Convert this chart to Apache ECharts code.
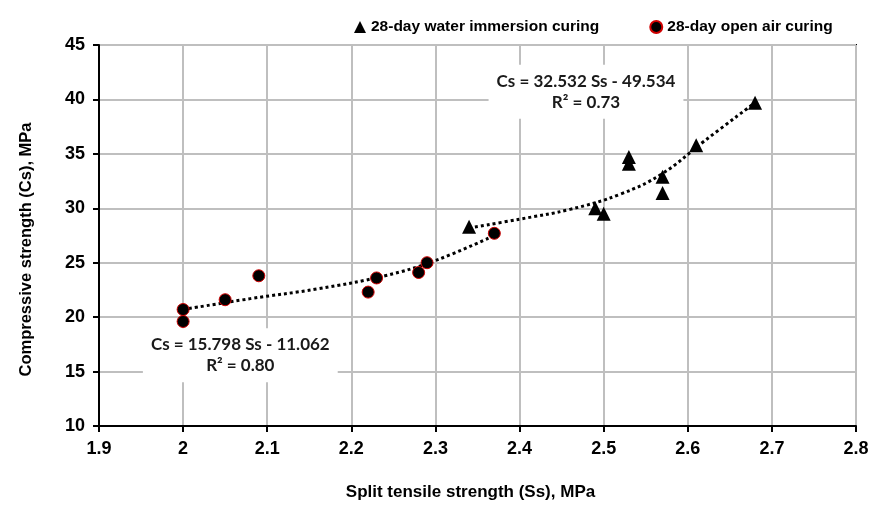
<!DOCTYPE html>
<html>
<head>
<meta charset="utf-8">
<script src="https://cdn.jsdelivr.net/npm/echarts@6/dist/echarts.min.js"></script>
<style>
  html, body { margin: 0; padding: 0; background: #fff; }
  #chart { width: 872px; height: 516px; }
</style>
</head>
<body>
<div id="chart"></div>
<script>
// Split tensile strength (Ss, MPa) vs compressive strength (Cs, MPa)
const waterSs = [2.34, 2.49, 2.50, 2.53, 2.53, 2.57, 2.57, 2.61, 2.68];
const waterCs = [28.3, 30.0, 29.5, 34.7, 34.1, 32.9, 31.4, 35.8, 39.7];

const airSs = [2.00, 2.00, 2.05, 2.09, 2.22, 2.23, 2.28, 2.29, 2.37];
const airCs = [20.7, 19.6, 21.6, 23.8, 22.3, 23.6, 24.1, 25.0, 27.7];

// dotted trend curves as drawn through each group
const waterTrendSs = [2.34, 2.40, 2.46, 2.52, 2.57, 2.62, 2.68];
const waterTrendCs = [28.2, 29.0, 29.9, 31.3, 33.2, 36.2, 39.7];
const airTrendSs = [2.00, 2.08, 2.16, 2.24, 2.30, 2.37];
const airTrendCs = [20.7, 21.7, 22.6, 23.8, 25.2, 27.5];

const seriesNames = ['28-day water immersion curing', '28-day open air curing'];
const equations = [
  { ss: 2.068, cs: 16.5, text: 'Cs = 15.798 Ss - 11.062\nR\u00B2 = 0.80' },
  { ss: 2.479, cs: 40.7, text: 'Cs = 32.532 Ss - 49.534\nR\u00B2 = 0.73' }
];

const xTicks = { min: 1.9, max: 2.8, interval: 0.1 };
const yTicks = { min: 10, max: 45, interval: 5 };

const zip = (a, b) => a.map((v, i) => [v, b[i]]);
const axisFont = '"Liberation Sans", "Roboto", Arial, sans-serif';
const eqFont = '"Lato", "Open Sans", sans-serif';

const chart = echarts.init(document.getElementById('chart'), null, { renderer: 'canvas' });

const dotted = { color: '#000', width: 3, type: [3, 3], cap: 'butt' };

chart.setOption({
  animation: false,
  backgroundColor: '#fff',
  grid: {
    left: 99, right: 16, top: 45, bottom: 90,
    show: true, borderColor: '#000', borderWidth: 2, backgroundColor: 'transparent'
  },
  legend: {
    data: [
      { name: seriesNames[0], icon: 'triangle' },
      { name: seriesNames[1], icon: 'circle' }
    ],
    left: 349, top: 14,
    itemWidth: 12, itemHeight: 12, itemGap: 50,
    textStyle: { fontFamily: axisFont, fontWeight: 'bold', fontSize: 15.5, color: '#000' }
  },
  xAxis: {
    type: 'value',
    min: xTicks.min, max: xTicks.max, interval: xTicks.interval,
    name: 'Split tensile strength (Ss), MPa',
    nameLocation: 'middle', nameGap: 58,
    nameTextStyle: {
      fontFamily: axisFont, fontWeight: 'bold', fontSize: 17, color: '#000',
      padding: [0, 14, 0, 0]
    },
    axisLine: { lineStyle: { color: '#000', width: 2 } },
    axisTick: { show: true, length: 6, lineStyle: { color: '#000', width: 2 } },
    axisLabel: {
      margin: 14, color: '#000', fontFamily: axisFont, fontWeight: 'bold', fontSize: 18,
      formatter: v => String(Math.round(v * 10) / 10)
    },
    splitLine: { show: true, lineStyle: { color: '#bfbfbf', width: 2 } }
  },
  yAxis: {
    type: 'value',
    min: yTicks.min, max: yTicks.max, interval: yTicks.interval,
    name: 'Compressive strength (Cs), MPa',
    nameLocation: 'middle', nameGap: 64,
    nameTextStyle: {
      fontFamily: axisFont, fontWeight: 'bold', fontSize: 16.5, color: '#000',
      padding: [0, 28, 0, 0]
    },
    axisLine: { show: true, lineStyle: { color: '#000', width: 2 } },
    axisTick: { show: true, length: 6, lineStyle: { color: '#000', width: 2 } },
    axisLabel: { margin: 14, color: '#000', fontFamily: axisFont, fontWeight: 'bold', fontSize: 18 },
    splitLine: { show: true, lineStyle: { color: '#bfbfbf', width: 2 } }
  },
  series: [
    {
      name: 'water trend', type: 'line', data: zip(waterTrendSs, waterTrendCs),
      smooth: 0.4, showSymbol: false, silent: true, z: 3,
      lineStyle: dotted
    },
    {
      name: 'air trend', type: 'line', data: zip(airTrendSs, airTrendCs),
      smooth: 0.4, showSymbol: false, silent: true, z: 3,
      lineStyle: dotted
    },
    {
      name: seriesNames[0], type: 'scatter', data: zip(waterSs, waterCs),
      symbol: 'triangle', symbolSize: 14, z: 5,
      itemStyle: { color: '#000', opacity: 1 }
    },
    {
      name: seriesNames[1], type: 'scatter', data: zip(airSs, airCs),
      symbol: 'circle', symbolSize: 12, z: 5,
      itemStyle: { color: '#000', borderColor: '#d00000', borderWidth: 1, opacity: 1 }
    },
    {
      name: 'equations', type: 'scatter', symbolSize: 0, silent: true, z: 4,
      itemStyle: { opacity: 1 },
      data: equations.map(e => ({ value: [e.ss, e.cs], label: { formatter: e.text } })),
      label: {
        show: true, position: 'inside', align: 'center', verticalAlign: 'middle',
        color: '#1a1a1a', fontFamily: eqFont, fontWeight: 'bold', fontSize: 17, lineHeight: 21,
        backgroundColor: '#fff', padding: [6, 8, 6, 8]
      }
    }
  ]
});
</script>
</body>
</html>
